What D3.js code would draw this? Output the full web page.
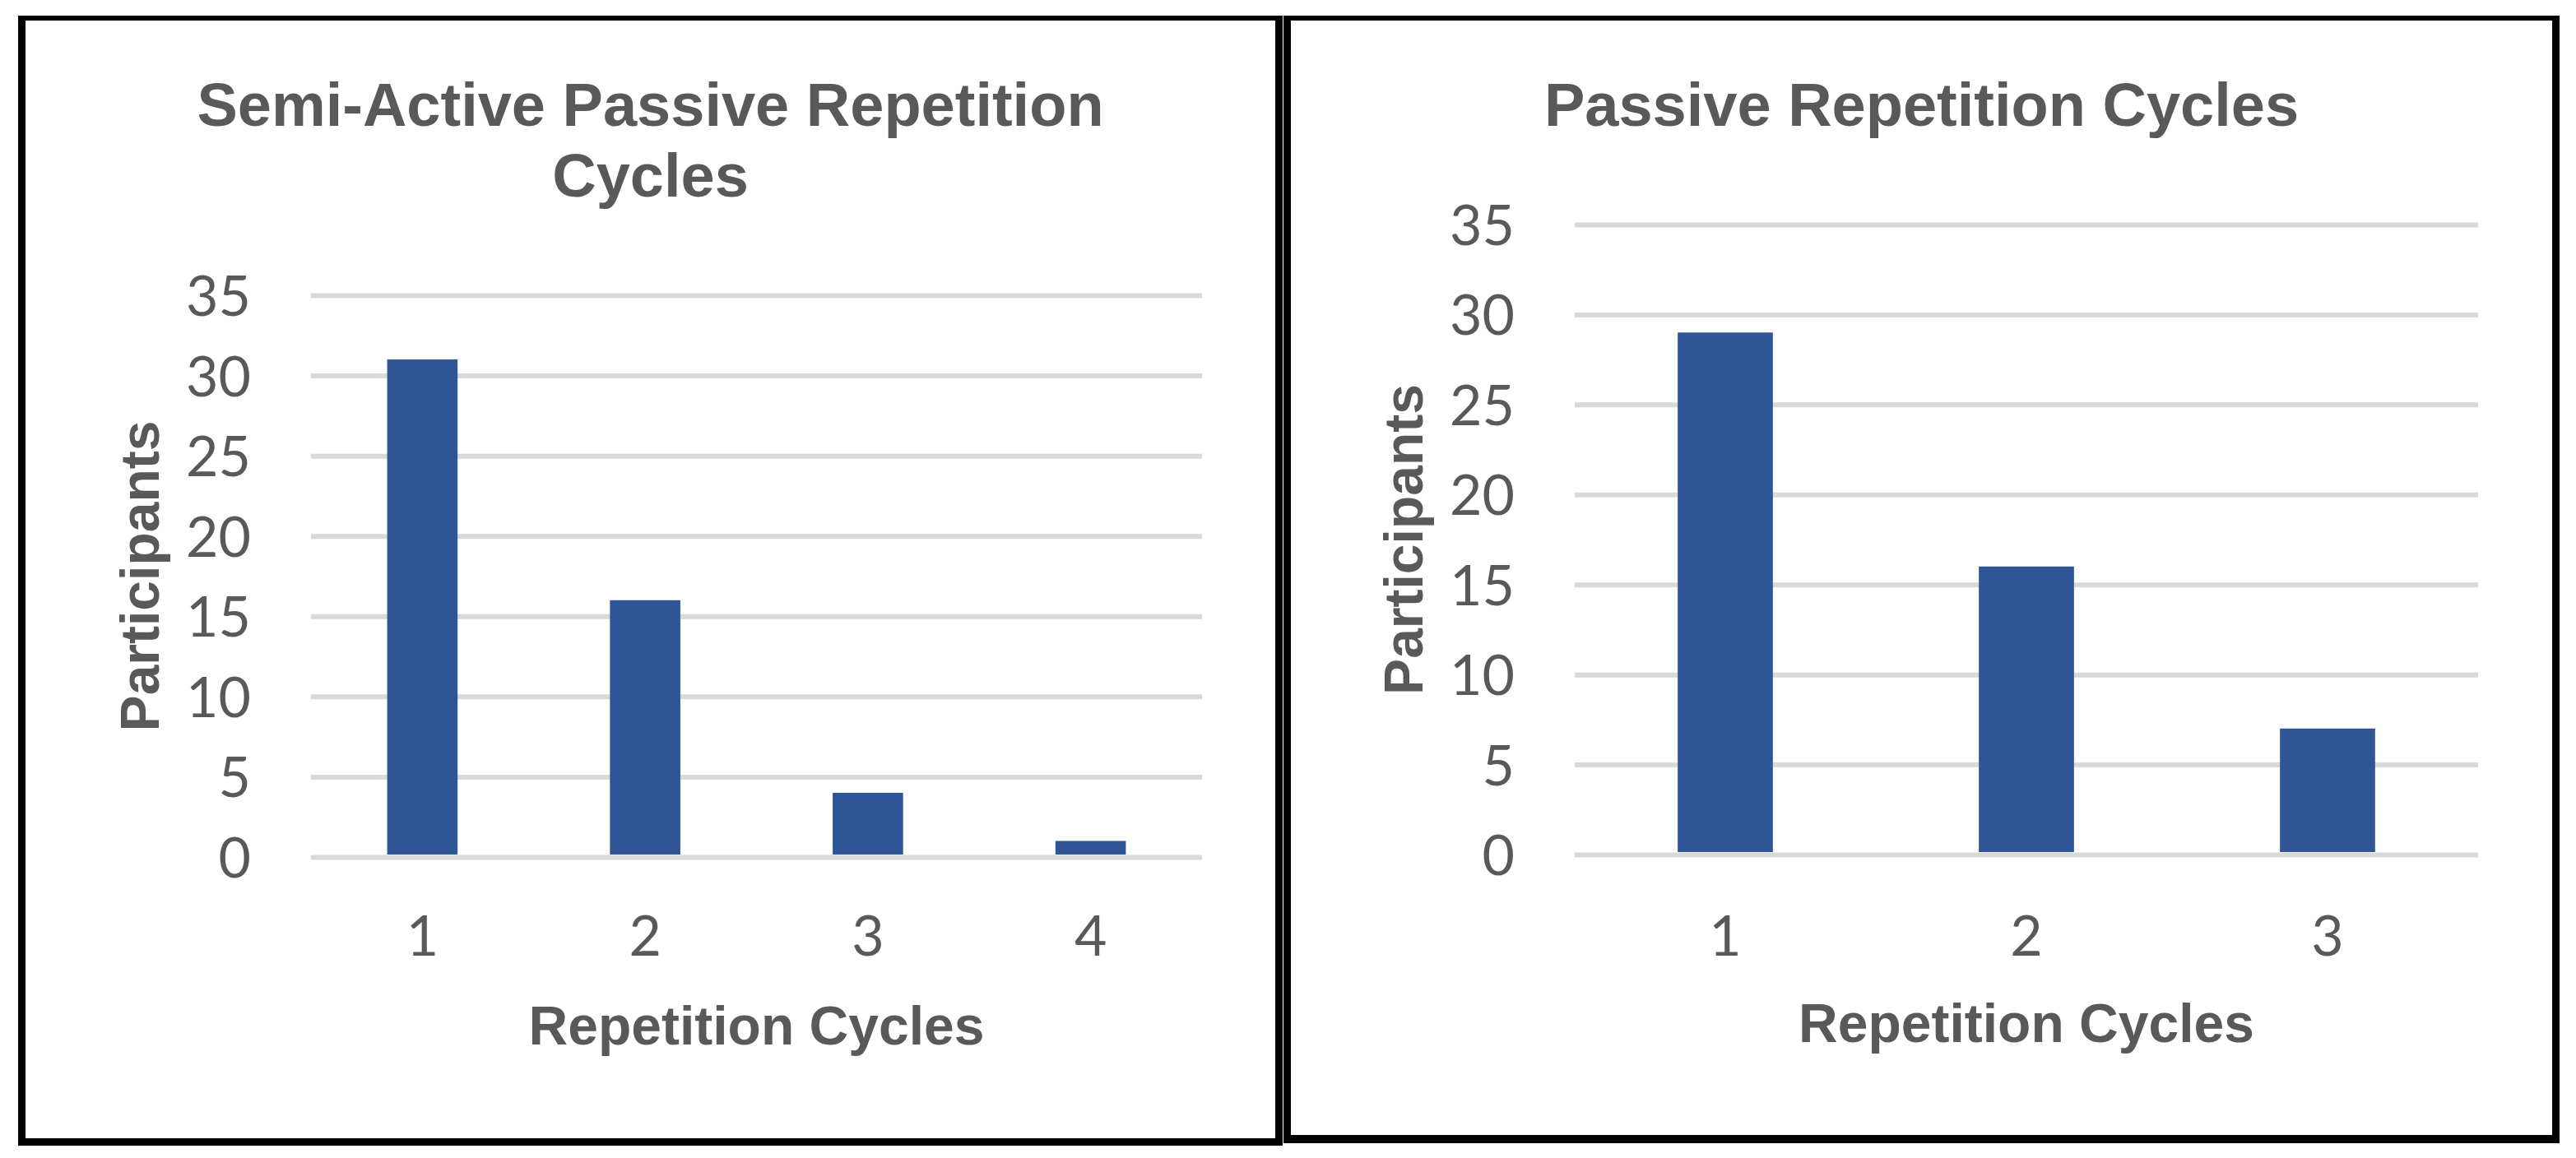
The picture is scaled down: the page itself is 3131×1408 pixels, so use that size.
<!DOCTYPE html>
<html>
<head>
<meta charset="utf-8">
<script src="https://cdn.jsdelivr.net/npm/d3@7"></script>
<style>
  html, body { margin: 0; padding: 0; background: #fff; }
  svg { display: block; }
</style>
</head>
<body>
<svg id="chart" width="3131" height="1408"></svg>
<script>
// Chart data
const semiActiveCycles = ['1', '2', '3', '4'];
const semiActiveParticipants = [31, 16, 4, 1];
const passiveCycles = ['1', '2', '3'];
const passiveParticipants = [29, 16, 7];
const yTicks = [0, 5, 10, 15, 20, 25, 30, 35];
const semiActiveTitle = ['Semi-Active Passive Repetition', 'Cycles'];
const passiveTitle = ['Passive Repetition Cycles'];
const xTitle = 'Repetition Cycles';
const yTitle = 'Participants';

const textColor = '#595959';
const barColor = '#2F5597';
const gridColor = '#D9D9D9';
const titleFont = '"Liberation Sans", Arial, sans-serif';
const tickFont = 'Lato, "Open Sans", sans-serif';

const svg = d3.select('#chart');
svg.append('rect').attr('width', 3131).attr('height', 1408).attr('fill', '#fff');

// Panel setup (frame + plot area)
const panels = [
  {
    frame: { x0: 22, y0: 19, x1: 1559, y1: 1393, top: 6, side: 9, bottom: 9 },
    plot: { left: 378, right: 1461, top: 359, bottom: 1042 },
    titleLines: semiActiveTitle,
    titleY: 153,
    categories: semiActiveCycles,
    values: semiActiveParticipants,
    yTitleX: 193,
    xLabelY: 1162,
    xTitleY: 1270
  },
  {
    frame: { x0: 1560, y0: 19, x1: 3111, y1: 1390, top: 6, side: 9, bottom: 10 },
    plot: { left: 1914, right: 3012, top: 273, bottom: 1039 },
    titleLines: passiveTitle,
    titleY: 153,
    categories: passiveCycles,
    values: passiveParticipants,
    yTitleX: 1729,
    xLabelY: 1162,
    xTitleY: 1267
  }
];

function renderPanel(p) {
  const f = p.frame;
  const g = svg.append('g');

  // Frame
  g.append('rect')
    .attr('x', f.x0).attr('y', f.y0)
    .attr('width', f.x1 - f.x0).attr('height', f.y1 - f.y0)
    .attr('fill', '#000');
  g.append('rect')
    .attr('x', f.x0 + f.side).attr('y', f.y0 + f.top)
    .attr('width', f.x1 - f.x0 - 2 * f.side)
    .attr('height', f.y1 - f.y0 - f.top - f.bottom)
    .attr('fill', '#fff');

  const cx = (f.x0 + f.x1) / 2;
  const plotCx = (p.plot.left + p.plot.right) / 2;
  const plotCy = (p.plot.top + p.plot.bottom) / 2;

  // Scales
  const x = d3.scaleBand()
    .domain(p.categories)
    .range([p.plot.left, p.plot.right])
    .paddingInner(0.684)
    .paddingOuter(0.342);
  const y = d3.scaleLinear()
    .domain([0, 35])
    .range([p.plot.bottom, p.plot.top]);

  // Gridlines
  const yAxis = d3.axisLeft(y)
    .tickValues(yTicks)
    .tickSize(-(p.plot.right - p.plot.left))
    .tickPadding(73);
  const yg = g.append('g')
    .attr('transform', `translate(${p.plot.left},0)`)
    .call(yAxis);
  yg.select('.domain').remove();
  yg.selectAll('.tick line')
    .attr('stroke', gridColor)
    .attr('stroke-width', 6);
  yg.selectAll('.tick text')
    .attr('fill', textColor)
    .attr('font-family', tickFont)
    .attr('font-size', 68)
    .attr('dy', '0.36em');

  // Bars
  g.append('g')
    .selectAll('rect')
    .data(p.values)
    .join('rect')
    .attr('x', (d, i) => x(p.categories[i]))
    .attr('y', (d) => y(d))
    .attr('width', x.bandwidth())
    .attr('height', (d) => y(0) - y(d) - 3)
    .attr('fill', barColor);

  // X tick labels
  const xAxis = d3.axisBottom(x).tickSize(0).tickPadding(0);
  const xg = g.append('g')
    .attr('transform', `translate(0,${p.xLabelY})`)
    .call(xAxis);
  xg.select('.domain').remove();
  xg.selectAll('.tick text')
    .attr('fill', textColor)
    .attr('font-family', tickFont)
    .attr('font-size', 68)
    .attr('dy', 0);

  // Title
  g.append('text')
    .attr('text-anchor', 'middle')
    .attr('fill', textColor)
    .attr('font-family', titleFont)
    .attr('font-weight', 'bold')
    .attr('font-size', 74)
    .selectAll('tspan')
    .data(p.titleLines)
    .join('tspan')
    .attr('x', cx)
    .attr('y', (d, i) => p.titleY + i * 86)
    .text((d) => d);

  // Axis titles
  g.append('text')
    .attr('x', plotCx)
    .attr('y', p.xTitleY)
    .attr('text-anchor', 'middle')
    .attr('fill', textColor)
    .attr('font-family', titleFont)
    .attr('font-weight', 'bold')
    .attr('font-size', 66)
    .text(xTitle);

  g.append('text')
    .attr('transform', `translate(${p.yTitleX},${plotCy}) rotate(-90)`)
    .attr('text-anchor', 'middle')
    .attr('fill', textColor)
    .attr('font-family', titleFont)
    .attr('font-weight', 'bold')
    .attr('font-size', 66)
    .text(yTitle);
}

panels.forEach(renderPanel);
</script>
</body>
</html>
